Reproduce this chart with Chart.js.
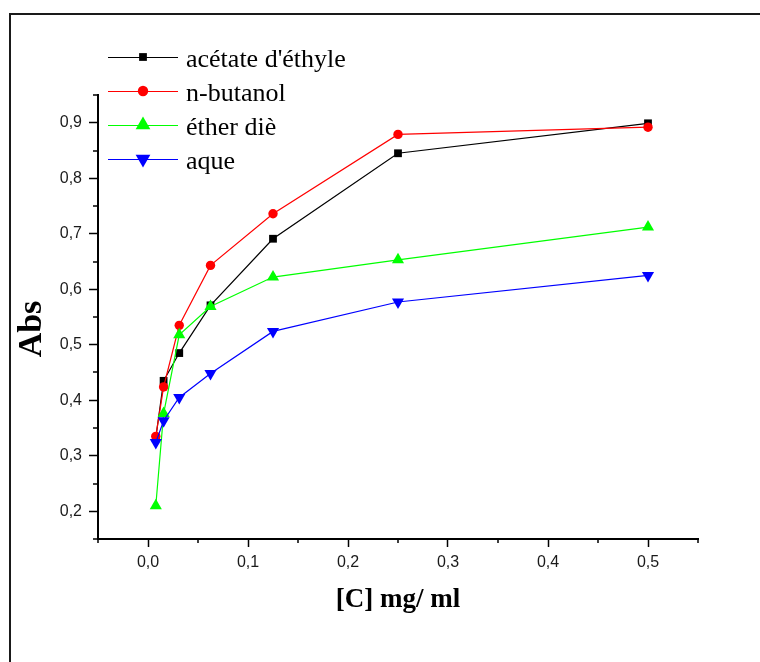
<!DOCTYPE html>
<html>
<head>
<meta charset="utf-8">
<script src="https://cdn.jsdelivr.net/npm/chart.js@4.4.0/dist/chart.umd.min.js"></script>
<style>
  html, body { margin: 0; padding: 0; background: #fff; }
  #wrap { width: 760px; height: 662px; }
</style>
</head>
<body>
<div id="wrap"><canvas id="absChart"></canvas></div>
<script>
// Concentrations (mg/ml) - serial dilution
const concentrations = [0.0078, 0.0156, 0.03125, 0.0625, 0.125, 0.25, 0.5]

// Absorbance per extract
const acetateEthyle = [0.332, 0.435, 0.485, 0.571, 0.691, 0.845, 0.899]
const nButanol = [0.335, 0.424, 0.535, 0.643, 0.736, 0.879, 0.892]
const etherDie = [0.21, 0.376, 0.518, 0.569, 0.622, 0.653, 0.712]
const aqueux = [0.324, 0.363, 0.405, 0.448, 0.524, 0.577, 0.625]

const seriesLabels = ["acétate d'éthyle", "n-butanol", "éther diè", "aque"]

// Axis ticks
const xTicks = [0, 0.1, 0.2, 0.3, 0.4, 0.5]
const xMinorTicks = [-0.05, 0.05, 0.15, 0.25, 0.35, 0.45, 0.55]
const yTicks = [0.2, 0.3, 0.4, 0.5, 0.6, 0.7, 0.8, 0.9]
const yMinorTicks = [0.15, 0.25, 0.35, 0.45, 0.55, 0.65, 0.75, 0.85, 0.95]

const styles = [
  { color: "#000000", pointStyle: "rect", radius: 5.5, rotation: 0, legendRadius: 5.5 },
  { color: "#ff0000", pointStyle: "circle", radius: 4.7, rotation: 0, legendRadius: 5.2 },
  { color: "#00ff00", pointStyle: "triangle", radius: 7, rotation: 0, legendRadius: 8.5 },
  { color: "#0000ff", pointStyle: "triangle", radius: 7, rotation: 180, legendRadius: 8.5 },
]

const values = [acetateEthyle, nButanol, etherDie, aqueux]

const datasets = values.map((arr, i) => ({
  label: seriesLabels[i],
  data: concentrations.map((c, j) => ({ x: c, y: arr[j] })),
  borderColor: styles[i].color,
  backgroundColor: styles[i].color,
  borderWidth: 1.2,
  pointStyle: styles[i].pointStyle,
  pointRotation: styles[i].rotation,
  pointRadius: styles[i].radius,
  pointBorderWidth: 0,
  pointBackgroundColor: styles[i].color,
  tension: 0,
  order: 4 - i,
}))

const fmt = (v) => v.toFixed(1).replace(".", ",")

// Frame, minor ticks, axis titles and the legend block
const decorations = {
  id: "decorations",
  afterDraw(chart) {
    const { ctx, scales } = chart
    const x = scales.x
    const y = scales.y
    ctx.save()

    // outer frame
    ctx.strokeStyle = "#1a1a1a"
    ctx.lineWidth = 2
    ctx.beginPath()
    ctx.moveTo(10, chart.height)
    ctx.lineTo(10, 14)
    ctx.lineTo(chart.width, 14)
    ctx.stroke()

    // minor ticks
    ctx.strokeStyle = "#000"
    ctx.lineWidth = 1.5
    ctx.beginPath()
    yMinorTicks.forEach((v) => {
      const py = Math.round(y.getPixelForValue(v))
      ctx.moveTo(x.left, py)
      ctx.lineTo(x.left - 5, py)
    })
    xMinorTicks.forEach((v) => {
      const px = Math.round(x.getPixelForValue(v))
      ctx.moveTo(px, y.bottom)
      ctx.lineTo(px, y.bottom + 4)
    })
    ctx.stroke()

    // axis titles
    ctx.fillStyle = "#000"
    ctx.textAlign = "center"
    ctx.textBaseline = "middle"
    ctx.font = "bold 27px 'Liberation Serif'"
    ctx.fillText("[C] mg/ ml", (x.left + x.right) / 2, 600)
    ctx.save()
    ctx.translate(32, 329)
    ctx.rotate(-Math.PI / 2)
    ctx.font = "bold 34px 'Liberation Serif'"
    ctx.fillText("Abs", 0, 0)
    ctx.restore()

    // legend
    const rows = [57, 91, 125, 159]
    ctx.textAlign = "left"
    ctx.textBaseline = "alphabetic"
    ctx.font = "26px 'Liberation Serif'"
    rows.forEach((ry, i) => {
      const s = styles[i]
      ctx.strokeStyle = s.color
      ctx.lineWidth = 1
      ctx.beginPath()
      ctx.moveTo(108, ry + 0.5)
      ctx.lineTo(178, ry + 0.5)
      ctx.stroke()
      ctx.fillStyle = s.color
      Chart.helpers.drawPoint(ctx, {
        pointStyle: s.pointStyle,
        rotation: s.rotation,
        radius: s.legendRadius,
        borderWidth: 0,
      }, 143, ry)
      ctx.fillStyle = "#000"
      ctx.fillText(seriesLabels[i], 186, ry + 10)
    })
    ctx.restore()
  },
}

new Chart(document.getElementById("absChart"), {
  type: "line",
  data: { datasets },
  plugins: [decorations],
  options: {
    responsive: true,
    maintainAspectRatio: false,
    animation: false,
    clip: false,
    layout: { padding: { left: 0, top: 95, right: 62, bottom: 0 } },
    plugins: {
      legend: { display: false },
      tooltip: { enabled: false },
    },
    scales: {
      x: {
        type: "linear",
        min: -0.05,
        max: 0.55,
        afterFit: (scale) => { scale.height = 662 - 539 },
        afterBuildTicks: (scale) => { scale.ticks = xTicks.map((value) => ({ value })) },
        border: { display: true, color: "#000", width: 2 },
        grid: { drawOnChartArea: false, drawTicks: true, tickLength: 8, tickColor: "#000", tickWidth: 1.5 },
        ticks: {
          color: "#1a1a1a",
          padding: 6,
          font: { family: "'Liberation Sans'", size: 16 },
          callback: (v) => fmt(v),
        },
      },
      y: {
        type: "linear",
        min: 0.15,
        max: 0.95,
        afterFit: (scale) => { scale.width = 98 },
        afterBuildTicks: (scale) => { scale.ticks = yTicks.map((value) => ({ value })) },
        border: { display: true, color: "#000", width: 2 },
        grid: { drawOnChartArea: false, drawTicks: true, tickLength: 9, tickColor: "#000", tickWidth: 1.5 },
        ticks: {
          color: "#1a1a1a",
          padding: 7,
          font: { family: "'Liberation Sans'", size: 16 },
          callback: (v) => fmt(v),
        },
      },
    },
  },
})
</script>
</body>
</html>
